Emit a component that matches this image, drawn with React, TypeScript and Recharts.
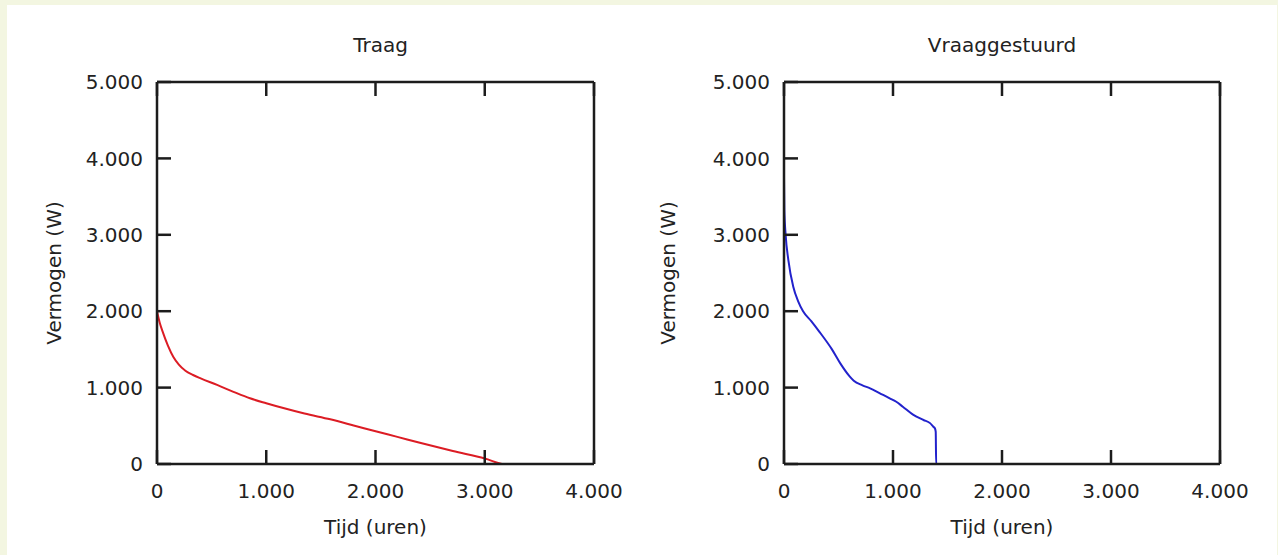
import { Line, LineChart, XAxis, YAxis } from "recharts";

// Traag: uitgelezen punten (tijd in uren, vermogen in W)
const traagTijd = [0, 25, 50, 100, 150, 200, 260, 330, 400, 550, 700, 851, 1000, 1156, 1350, 1586, 1800, 2010, 2200, 2406, 2708, 3001, 3180, 3280];
const traagVermogen = [2000, 1850, 1740, 1550, 1400, 1300, 1220, 1165, 1120, 1035, 945, 860, 795, 732, 660, 585, 505, 425, 355, 278, 170, 72, 0, 0];

// Vraaggestuurd
const vraagTijd = [0, 3, 15, 40, 85, 130, 175, 250, 320, 440, 515, 600, 640, 720, 790, 880, 970, 1030, 1090, 1180, 1280, 1340, 1370, 1385, 1392, 1396, 1470];
const vraagVermogen = [3750, 3330, 3000, 2670, 2320, 2130, 2000, 1870, 1740, 1500, 1320, 1150, 1090, 1030, 990, 925, 860, 815, 750, 650, 576, 535, 488, 465, 420, 0, 0];

const xTicks = [0, 1000, 2000, 3000, 4000];
const yTicks = [0, 1000, 2000, 3000, 4000, 5000];

const FONT = "DejaVu Sans";
const INK = "#1c1c1c";
const TEXT = "#222";
const TICK = 14;

// Nederlandse notatie: 1.000, 2.000 ...
const fmt = (v: number) => (v === 0 ? "0" : `${v / 1000}.000`);

const toRows = (tijd: number[], vermogen: number[]) =>
  tijd.map((t, i) => ({ t, p: vermogen[i] }));

// ticks naar binnen, labels naar buiten
const BottomTick = ({ x, y, payload }: any) => (
  <g>
    <line x1={x} y1={y} x2={x} y2={y - TICK} stroke={INK} strokeWidth={2.5} />
    <text x={x} y={y + 34} textAnchor="middle" fill={TEXT} fontSize={20} fontFamily={FONT}>
      {fmt(payload.value)}
    </text>
  </g>
);

const LeftTick = ({ x, y, payload }: any) => (
  <g>
    <line x1={x} y1={y} x2={x + TICK} y2={y} stroke={INK} strokeWidth={2.5} />
    <text x={x - 14} y={y} dy="0.36em" textAnchor="end" fill={TEXT} fontSize={20} fontFamily={FONT}>
      {fmt(payload.value)}
    </text>
  </g>
);

const TopTick = ({ x, y }: any) => (
  <line x1={x} y1={y} x2={x} y2={y + TICK} stroke={INK} strokeWidth={2.5} />
);

const RightTick = ({ x, y }: any) => (
  <line x1={x} y1={y} x2={x - TICK} y2={y} stroke={INK} strokeWidth={2.5} />
);

type PanelProps = {
  title: string;
  titleShift: number;
  rows: { t: number; p: number }[];
  color: string;
  left: number;
  width: number;
  yAxisWidth: number;
  rightMargin: number;
  yTitleX: number;
};

const Panel = ({ title, titleShift, rows, color, left, width, yAxisWidth, rightMargin, yTitleX }: PanelProps) => {
  const axisLine = { stroke: INK, strokeWidth: 2.5 };
  const plotW = width - yAxisWidth - rightMargin;

  return (
    <div style={{ position: "absolute", left, top: 0, width, height: 555 }}>
      {/* titel boven de grafiek */}
      <div
        style={{
          position: "absolute",
          left: yAxisWidth + titleShift,
          width: plotW,
          top: 35,
          textAlign: "center",
          fontFamily: FONT,
          fontSize: 20,
          lineHeight: "20px",
          color: TEXT,
        }}
      >
        {title}
      </div>
      <LineChart width={width} height={555} data={rows} margin={{ top: 81, right: rightMargin - 1, bottom: 0, left: 0 }}>
        <XAxis
          xAxisId="bottom"
          dataKey="t"
          type="number"
          domain={[0, 4000]}
          ticks={xTicks}
          height={91}
          tickSize={0}
          tickMargin={0}
          axisLine={axisLine}
          tickLine={false}
          tick={BottomTick}
          label={{ value: "Tijd (uren)", position: "insideBottom", offset: 21, fill: TEXT, fontSize: 20, fontFamily: FONT }}
        />
        <XAxis
          xAxisId="top"
          orientation="top"
          dataKey="t"
          type="number"
          domain={[0, 4000]}
          ticks={xTicks}
          height={1}
          tickSize={0}
          tickMargin={0}
          axisLine={axisLine}
          tickLine={false}
          tick={TopTick}
        />
        <YAxis
          yAxisId="left"
          type="number"
          domain={[0, 5000]}
          ticks={yTicks}
          width={yAxisWidth}
          tickSize={0}
          tickMargin={0}
          axisLine={axisLine}
          tickLine={false}
          tick={LeftTick}
          label={{
            value: "Vermogen (W)",
            angle: -90,
            position: "insideLeft",
            offset: yTitleX,
            fill: TEXT,
            fontSize: 20,
            fontFamily: FONT,
            style: { textAnchor: "middle" },
          }}
        />
        <YAxis
          yAxisId="right"
          orientation="right"
          type="number"
          domain={[0, 5000]}
          ticks={yTicks}
          width={1}
          tickSize={0}
          tickMargin={0}
          axisLine={axisLine}
          tickLine={false}
          tick={RightTick}
        />
        <Line
          xAxisId="bottom"
          yAxisId="left"
          type="monotone"
          dataKey="p"
          stroke={color}
          strokeWidth={2}
          dot={false}
          activeDot={false}
          isAnimationActive={false}
        />
      </LineChart>
    </div>
  );
};

export default function App() {
  return (
    <div style={{ position: "absolute", left: 0, top: 0, width: 1278, height: 555, background: "#f3f6e1", overflow: "hidden" }}>
      <div style={{ position: "absolute", left: 7, top: 5, width: 1270, height: 560, background: "#ffffff" }} />
      <Panel
        title="Traag"
        titleShift={5}
        rows={toRows(traagTijd, traagVermogen)}
        color="#dc1c24"
        left={0}
        width={640}
        yAxisWidth={157}
        rightMargin={46}
        yTitleX={54}
      />
      <Panel
        title="Vraaggestuurd"
        titleShift={0}
        rows={toRows(vraagTijd, vraagVermogen)}
        color="#2222cc"
        left={640}
        width={638}
        yAxisWidth={144}
        rightMargin={58}
        yTitleX={28}
      />
    </div>
  );
}
